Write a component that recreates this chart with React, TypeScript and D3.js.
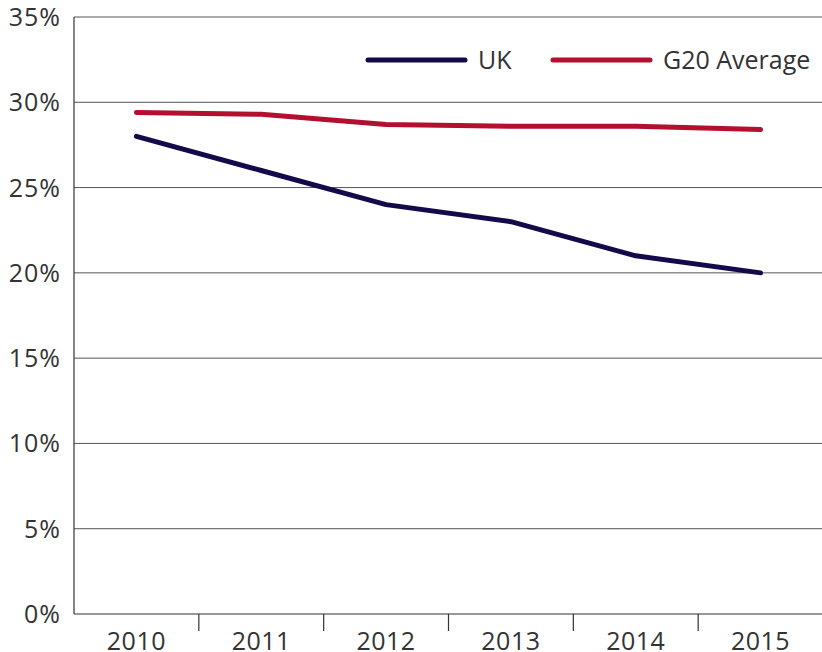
import React from "react";
import * as d3 from "d3";

const years = ["2010", "2011", "2012", "2013", "2014", "2015"];
const ukValues = [28, 26, 24, 23, 21, 20];
const g20Values = [29.4, 29.3, 28.7, 28.6, 28.6, 28.4];
const yTicks = [0, 5, 10, 15, 20, 25, 30, 35];
const seriesNames = ["UK", "G20 Average"];
const seriesColors = ["#14094a", "#b3102f"];

const W = 822;
const H = 652;
const margin = { left: 74, top: 17, right: -1, bottom: 38 };
const FONT = "'Open Sans', 'DejaVu Sans', sans-serif";

export default function App() {
  const x = d3
    .scaleBand<string>()
    .domain(years)
    .range([margin.left, W - margin.right])
    .padding(0);
  const y = d3.scaleLinear().domain([0, 35]).range([H - margin.bottom, margin.top]);
  const cx = (d: string) => (x(d) as number) + x.bandwidth() / 2;
  const line = d3
    .line<number>()
    .x((_, i) => cx(years[i]))
    .y((v) => y(v));
  const series = [ukValues, g20Values];
  const plotRight = W;

  return (
    <svg
      width={W}
      height={H}
      style={{ position: "absolute", left: 0, top: 0, background: "#fff" }}
      fontFamily={FONT}
    >
      {yTicks.map((t) => (
        <g key={t}>
          {t > 0 && (
            <line x1={margin.left} x2={plotRight} y1={y(t)} y2={y(t)} stroke="#555" strokeWidth={1} />
          )}
          <text
            x={61}
            y={y(t)}
            dy="0.36em"
            textAnchor="end"
            fontSize={25}
            letterSpacing={1}
            fill="#333"
          >
            {t}%
          </text>
        </g>
      ))}
      <line x1={margin.left} x2={margin.left} y1={y(35)} y2={y(0)} stroke="#333" strokeWidth={1.2} />
      <line x1={margin.left} x2={plotRight} y1={y(0)} y2={y(0)} stroke="#333" strokeWidth={1.2} />
      {years.slice(1).map((yr) => (
        <line
          key={yr}
          x1={x(yr) as number}
          x2={x(yr) as number}
          y1={y(0)}
          y2={y(0) + 17}
          stroke="#333"
          strokeWidth={1.2}
        />
      ))}
      {years.map((yr) => (
        <text key={yr} x={cx(yr)} y={650} textAnchor="middle" fontSize={25} letterSpacing={0.5} fill="#333">
          {yr}
        </text>
      ))}
      {series.map((s, i) => (
        <path
          key={i}
          d={line(s) as string}
          fill="none"
          stroke={seriesColors[i]}
          strokeWidth={5}
          strokeLinecap="round"
          strokeLinejoin="round"
        />
      ))}
      {seriesNames.map((n, i) => {
        const lx = i === 0 ? 368 : 553;
        return (
          <g key={n}>
            <line
              x1={lx}
              x2={lx + 97}
              y1={60}
              y2={60}
              stroke={seriesColors[i]}
              strokeWidth={5}
              strokeLinecap="round"
            />
            <text x={lx + 110} y={60} dy="0.36em" fontSize={25} fill="#333">
              {n}
            </text>
          </g>
        );
      })}
    </svg>
  );
}
